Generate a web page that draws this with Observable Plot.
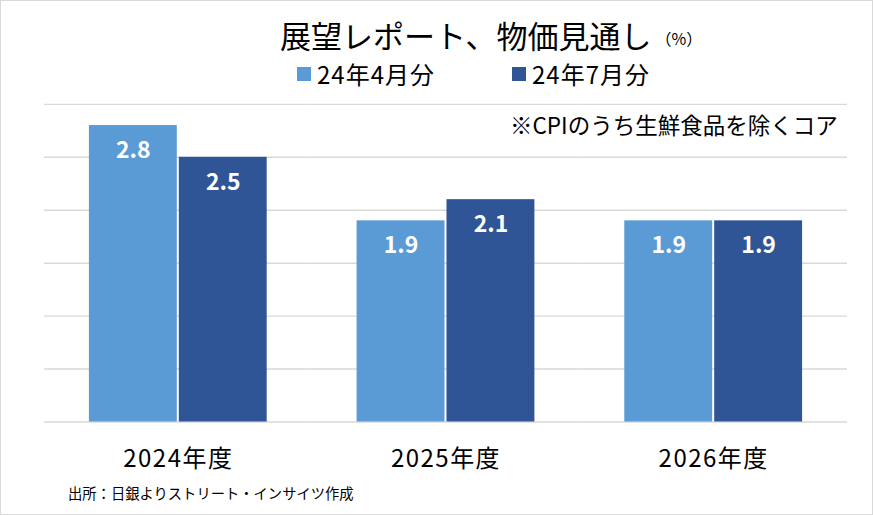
<!DOCTYPE html>
<html><head><meta charset="utf-8">
<script src="https://cdn.jsdelivr.net/npm/d3@7"></script>
<script src="https://cdn.jsdelivr.net/npm/@observablehq/plot@0.6"></script>
<style>
html,body{margin:0;padding:0;background:#fff;}
#wrap{position:relative;width:873px;height:515px;box-sizing:border-box;border:1px solid #d9d9d9;overflow:hidden;font-family:"Noto Sans CJK JP",sans-serif;color:#000;}
#chart{position:absolute;left:-1px;top:-1px;}
.abs{position:absolute;white-space:nowrap;line-height:1;}
.sw{display:inline-block;width:14px;height:14px;vertical-align:middle;}
#chart svg g[aria-label="fx-axis tick label"] text{letter-spacing:1.5px;}
</style></head>
<body>
<div id="wrap">
  <div id="chart"></div>
  <div class="abs" style="left:279px;top:18px;font-size:31px;">展望レポート、物価見通し<span style="font-size:16px;margin-left:4px;position:relative;top:-3px;">（%）</span></div>
  <div class="abs" style="left:296px;top:58px;font-size:24px;letter-spacing:1px;"><span class="sw" id="sw1"></span><span style="margin-left:6px;vertical-align:middle;" id="lg1"></span></div>
  <div class="abs" style="left:511px;top:58px;font-size:24px;letter-spacing:1px;"><span class="sw" id="sw2"></span><span style="margin-left:6px;vertical-align:middle;" id="lg2"></span></div>
  <div class="abs" style="left:509px;top:112px;font-size:22.5px;">※CPIのうち生鮮食品を除くコア</div>
  <div class="abs" style="left:67px;top:485px;font-size:14.3px;">出所：日銀よりストリート・インサイツ作成</div>
</div>
<script>
const years = ["2024年度", "2025年度", "2026年度"];
const seriesNames = ["24年4月分", "24年7月分"];
const aprValues = [2.8, 1.9, 1.9];
const julValues = [2.5, 2.1, 1.9];
const yTicks = [0, 0.5, 1, 1.5, 2, 2.5, 3];
const colors = ["#5B9BD5", "#2F5597"];

const data = [];
years.forEach((y, i) => {
  data.push({year: y, series: seriesNames[0], value: aprValues[i]});
  data.push({year: y, series: seriesNames[1], value: julValues[i]});
});

document.getElementById("sw1").style.background = colors[0];
document.getElementById("sw2").style.background = colors[1];
document.getElementById("lg1").textContent = seriesNames[0];
document.getElementById("lg2").textContent = seriesNames[1];

const chart = Plot.plot({
  width: 873,
  height: 515,
  marginTop: 104,
  marginBottom: 93,
  marginLeft: 43,
  marginRight: 25,
  style: {fontFamily: "'Noto Sans CJK JP', sans-serif", fontSize: "24px", background: "transparent", color: "#000"},
  fx: {domain: years, padding: 0, label: null, tickSize: 0, tickPadding: 28},
  x: {domain: seriesNames, paddingInner: 0.022, paddingOuter: 0.49, axis: null},
  y: {domain: [0, 3], axis: null},
  color: {domain: seriesNames, range: colors},
  marks: [
    Plot.ruleY(yTicks, {stroke: "#d9d9d9", strokeWidth: 1.4}),
    Plot.barY(data, {fx: "year", x: "series", y: "value", fill: "series"}),
    Plot.text(data, {fx: "year", x: "series", y: "value", text: d => d.value.toFixed(1), dy: 25, fill: "white", fontWeight: "bold", fontSize: 23})
  ]
});
document.getElementById("chart").appendChild(chart);
</script>
</body></html>
